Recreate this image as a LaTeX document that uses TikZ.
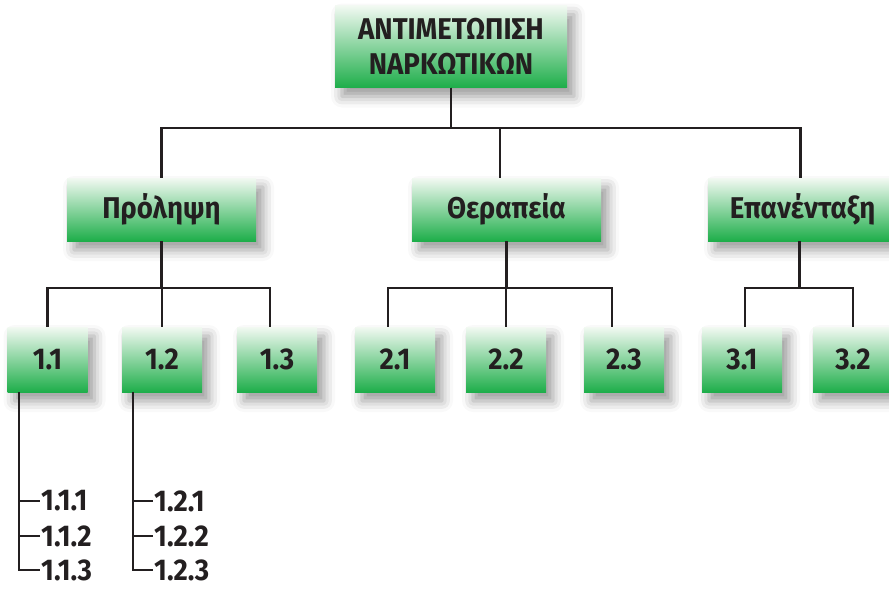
\documentclass[tikz,border=0pt]{standalone}
\usepackage{fontspec}
\setmainfont{Fira Sans}[FakeStretch=0.92]
\usetikzlibrary{shadows.blur}
\definecolor{boxgreen}{RGB}{30,174,74}
\definecolor{boxtop}{RGB}{242,249,242}
\definecolor{ink}{RGB}{35,31,32}
\tikzset{
  greenbox/.style={rectangle, top color=boxtop, bottom color=boxgreen, text=ink,
    font=\fontsize{30}{35}\selectfont\bfseries, align=center, inner sep=0pt,
    blur shadow={shadow xshift=7pt, shadow yshift=-9pt, shadow blur radius=11pt, shadow opacity=40}},
  midbox/.style={greenbox, minimum width=189pt, minimum height=63pt},
  leafbox/.style={greenbox, minimum width=80pt, minimum height=65pt},
  subitem/.style={anchor=west, inner sep=1pt, text=ink, font=\fontsize{30}{32}\selectfont\bfseries},
  tree/.style={draw=ink, line width=2.4pt}
}
\begin{document}
\begin{tikzpicture}[x=1pt,y=1pt]
\clip (0,0) rectangle (889,-589);

\node [greenbox, minimum width=232pt, minimum height=82pt] (root) at (451,-46.5) {ΑΝΤΙΜΕΤΩΠΙΣΗ\\ΝΑΡΚΩΤΙΚΩΝ};

\node [midbox] (prol) at (161.5,-209.5) {Πρόληψη};
\node [midbox] (ther) at (506.5,-209.5) {Θεραπεία};
\node [midbox] (epan) at (802.5,-209.5) {Επανένταξη};

\node [leafbox] (b11) at (47.5,-359.5) {1.1};
\node [leafbox] (b12) at (162,-359.5) {1.2};
\node [leafbox] (b13) at (277,-359.5) {1.3};
\node [leafbox] (b21) at (395,-359.5) {2.1};
\node [leafbox] (b22) at (506,-359.5) {2.2};
\node [leafbox] (b23) at (624,-359.5) {2.3};
\node [leafbox] (b31) at (742,-359.5) {3.1};
\node [leafbox] (b32) at (853,-359.5) {3.2};

\node [subitem] (t111) at (40,-501) {1.1.1};
\node [subitem] (t112) at (40,-536) {1.1.2};
\node [subitem] (t113) at (40,-570) {1.1.3};
\node [subitem] (t121) at (153,-501) {1.2.1};
\node [subitem] (t122) at (153,-536) {1.2.2};
\node [subitem] (t123) at (153,-570) {1.2.3};

% root to the three areas
\draw [tree] (root.south) -- ++(0,-40) -| (prol.north);
\draw [tree] (root.south) -- ++(0,-40) -| ([xshift=-6.5pt]ther.north);
\draw [tree] (root.south) -- ++(0,-40) -| ([xshift=-2pt]epan.north);

% areas to actions
\draw [tree] (prol.south) -- ++(0,-47) -| (b11.north);
\draw [tree] (prol.south) -- ++(0,-47) -| (b12.north);
\draw [tree] (prol.south) -- ++(0,-47) -| ([xshift=-7pt]b13.north);
\draw [tree] (ther.south) -- ++(0,-47) -| ([xshift=-7pt]b21.north);
\draw [tree] (ther.south) -- ++(0,-47) -| (b22.north);
\draw [tree] (ther.south) -- ++(0,-47) -| ([xshift=-12pt]b23.north);
\draw [tree] ([xshift=-3pt]epan.south) -- ++(0,-47) -| ([xshift=3pt]b31.north);
\draw [tree] ([xshift=-3pt]epan.south) -- ++(0,-47) -| (b32.north);

% sub-actions
\coordinate (s1) at ([xshift=-28.5pt]b11.south);
\coordinate (s2) at ([xshift=-29pt]b12.south);
\draw [tree] (s1) |- (t113.west);
\draw [tree] (s1 |- t111.west) -- (t111.west);
\draw [tree] (s1 |- t112.west) -- (t112.west);
\draw [tree] (s2) |- (t123.west);
\draw [tree] (s2 |- t121.west) -- (t121.west);
\draw [tree] (s2 |- t122.west) -- (t122.west);
\end{tikzpicture}
\end{document}
